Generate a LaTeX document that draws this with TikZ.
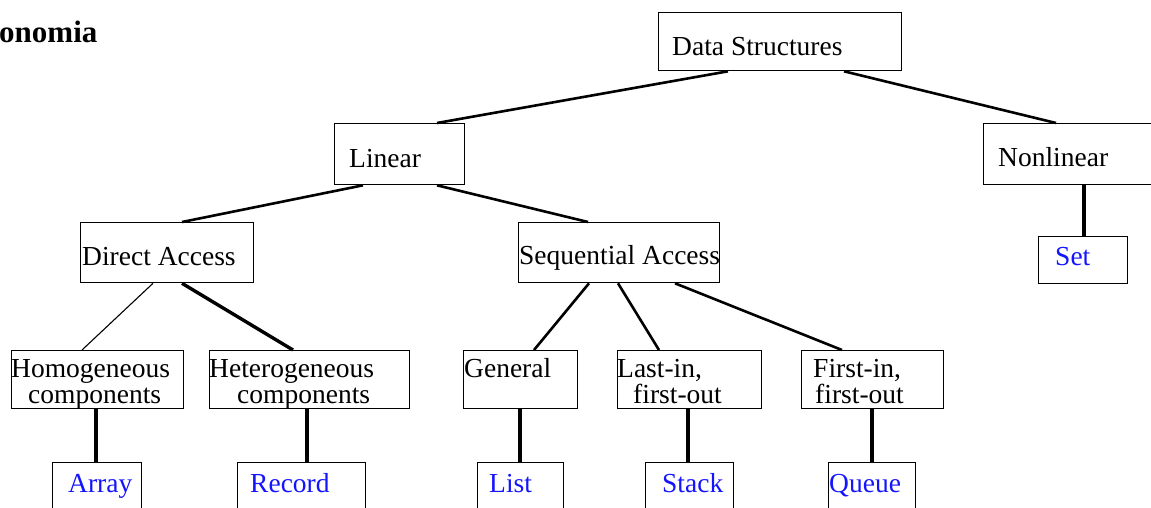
\documentclass[tikz,border=0pt]{standalone}
\usepackage{fontspec}
\setmainfont{Liberation Serif}
\usetikzlibrary{calc}
\definecolor{leafblue}{RGB}{20,20,255}

\begin{document}
\begin{tikzpicture}[x=1pt,y=-1pt,
  box/.style={draw=black, line width=1.3pt, anchor=north west, inner sep=0pt},
  txt/.style={anchor=base west, inner sep=0pt, font=\fontsize{27.5}{26}\selectfont},
  leaftxt/.style={txt, text=leafblue},
  link/.style={line width=2.6pt},
  thinlink/.style={line width=1.1pt},
  stem/.style={line width=3.6pt}]

\useasboundingbox (0,0) rectangle (1151,507);
\clip (0,0) rectangle (1151,507);
\fill[white] (0,0) rectangle (1151,507);

% heading
\node[txt, font=\bfseries\fontsize{31}{31}\selectfont] (title) at (-1,42) {onomia};

% level 0 and 1
\node[box, minimum width=243pt, minimum height=58pt] (ds) at (658,12) {};
\node[txt] (ds-t) at (672,55) {Data Structures};

\node[box, minimum width=130pt, minimum height=61pt] (lin) at (334,123) {};
\node[txt] (lin-t) at (349,167) {Linear};

\node[box, minimum width=192pt, minimum height=61pt] (nonlin) at (983,123) {};
\node[txt] (nonlin-t) at (998,166) {Nonlinear};

% level 2
\node[box, minimum width=173pt, minimum height=60pt] (da) at (80,222) {};
\node[txt] (da-t) at (82,265) {Direct Access};

\node[box, minimum width=201pt, minimum height=60pt] (sa) at (518,222) {};
\node[txt] (sa-t) at (519,264) {Sequential Access};

\node[box, minimum width=89pt, minimum height=47pt] (set) at (1038,236) {};
\node[leaftxt] (set-t) at (1055,265) {Set};

% level 3
\node[box, minimum width=172pt, minimum height=58pt] (hom) at (11,350) {};
\node[txt] (hom-1) at (11,377) {Homogeneous};
\node[txt] (hom-2) at (28,403) {components};

\node[box, minimum width=200pt, minimum height=58pt] (het) at (209,350) {};
\node[txt] (het-1) at (209,377) {Heterogeneous};
\node[txt] (het-2) at (237,403) {components};

\node[box, minimum width=114pt, minimum height=58pt] (gen) at (463,350) {};
\node[txt] (gen-t) at (464,377) {General};

\node[box, minimum width=144pt, minimum height=58pt] (lifo) at (617,350) {};
\node[txt] (lifo-1) at (617,377) {Last-in,};
\node[txt] (lifo-2) at (633,403) {first-out};

\node[box, minimum width=142pt, minimum height=58pt] (fifo) at (801,350) {};
\node[txt] (fifo-1) at (813,377) {First-in,};
\node[txt] (fifo-2) at (815,403) {first-out};

% level 4: concrete structures
\node[box, minimum width=89pt, minimum height=50pt] (arr) at (52,462) {};
\node[leaftxt] (arr-t) at (68,492) {Array};

\node[box, minimum width=128pt, minimum height=50pt] (rec) at (237,462) {};
\node[leaftxt] (rec-t) at (250,492) {Record};

\node[box, minimum width=86pt, minimum height=50pt] (list) at (477,462) {};
\node[leaftxt] (list-t) at (489,492) {List};

\node[box, minimum width=88pt, minimum height=50pt] (stack) at (645,462) {};
\node[leaftxt] (stack-t) at (662,492) {Stack};

\node[box, minimum width=87pt, minimum height=50pt] (queue) at (828,462) {};
\node[leaftxt] (queue-t) at (829,492) {Queue};

% connectors
\draw[link] ($(ds.south west)+(70,0)$) -- ($(lin.north west)+(103,0)$);
\draw[link] ($(ds.south west)+(186,0)$) -- ($(nonlin.north west)+(73,0)$);

\draw[link] ($(lin.south west)+(29,0)$) -- ($(da.north west)+(102,0)$);
\draw[link] ($(lin.south west)+(103,0)$) -- ($(sa.north west)+(70,0)$);

\draw[thinlink] ($(da.south west)+(73,0)$) -- ($(hom.north west)+(71,0)$);
\draw[link, line width=3.4pt] ($(da.south west)+(102,0)$) -- ($(het.north west)+(84,0)$);

\draw[link] ($(sa.south west)+(71,0)$) -- ($(gen.north west)+(71,0)$);
\draw[link] ($(sa.south west)+(100,0)$) -- ($(lifo.north west)+(42,0)$);
\draw[link] ($(sa.south west)+(157,0)$) -- ($(fifo.north west)+(41,0)$);

\draw[stem] ($(nonlin.south west)+(101,0)$) -- ($(set.north west)+(46,0)$);
\draw[stem] ($(hom.south west)+(85,0)$) -- ($(arr.north west)+(44,0)$);
\draw[stem] ($(het.south west)+(98,0)$) -- ($(rec.north west)+(70,0)$);
\draw[stem] ($(gen.south west)+(57,0)$) -- ($(list.north west)+(43,0)$);
\draw[stem] ($(lifo.south west)+(71,0)$) -- ($(stack.north west)+(43,0)$);
\draw[stem] ($(fifo.south west)+(71,0)$) -- ($(queue.north west)+(44,0)$);
\end{tikzpicture}
\end{document}
